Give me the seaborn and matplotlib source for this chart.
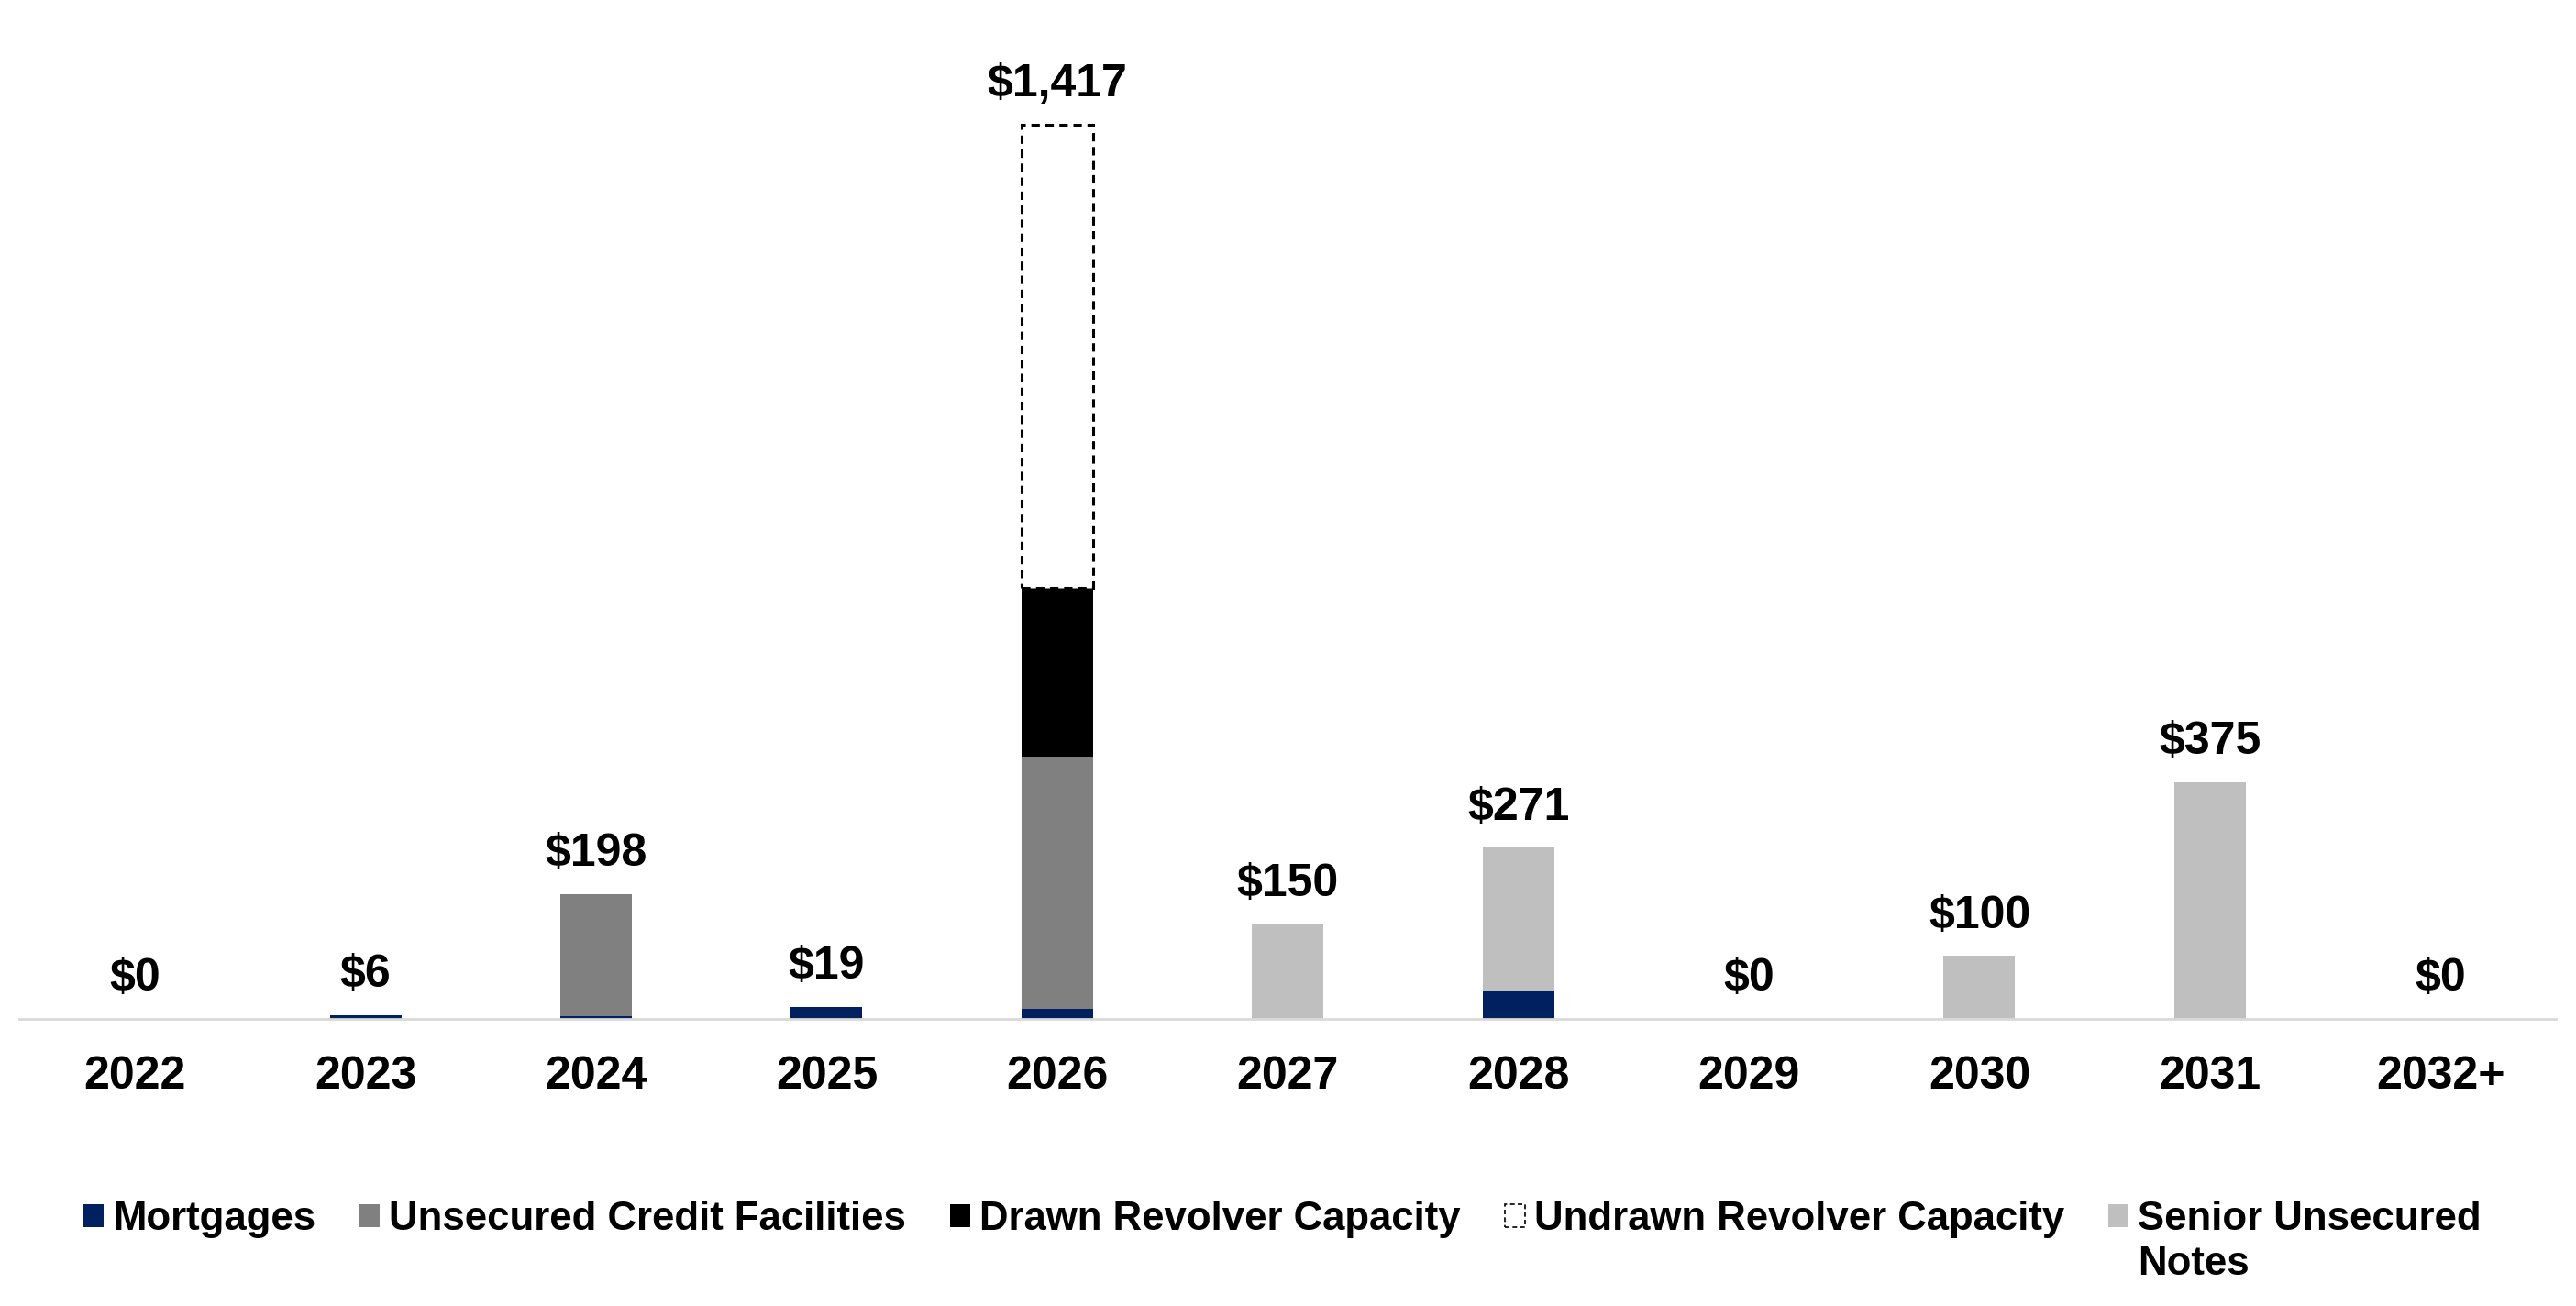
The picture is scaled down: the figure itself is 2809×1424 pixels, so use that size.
import matplotlib
matplotlib.use("Agg")
import matplotlib.pyplot as plt
import matplotlib.patches as mpatches
import seaborn as sns
import pandas as pd

# Debt maturity schedule ($ millions)
years = ["2022", "2023", "2024", "2025", "2026", "2027", "2028", "2029", "2030", "2031", "2032+"]
mortgages = [0, 6, 5, 19, 16, 0, 45, 0, 0, 0, 0]
unsecured_credit = [0, 0, 193, 0, 400, 0, 0, 0, 0, 0, 0]
drawn_revolver = [0, 0, 0, 0, 267, 0, 0, 0, 0, 0, 0]
undrawn_revolver = [0, 0, 0, 0, 734, 0, 0, 0, 0, 0, 0]
senior_notes = [0, 0, 0, 0, 0, 150, 226, 0, 100, 375, 0]

sns.set_style("white")
plt.rcParams["font.family"] = ["Liberation Sans", "DejaVu Sans"]
plt.rcParams["font.weight"] = "bold"
plt.rcParams["text.color"] = "black"
plt.rcParams["xtick.color"] = "black"

df = pd.DataFrame({
    "year": years,
    "Mortgages": mortgages,
    "Unsecured Credit Facilities": unsecured_credit,
    "Drawn Revolver Capacity": drawn_revolver,
    "Undrawn Revolver Capacity": undrawn_revolver,
    "Senior Unsecured Notes": senior_notes,
})

layers = [
    ("Mortgages", "#002060"),
    ("Unsecured Credit Facilities", "#808080"),
    ("Drawn Revolver Capacity", "#000000"),
    ("Undrawn Revolver Capacity", "#FFFFFF"),
    ("Senior Unsecured Notes", "#BFBFBF"),
]
dashed = (0, (3, 2))

fig = plt.figure(figsize=(28.09, 14.24), dpi=100)
ax = fig.add_axes([0.00765, 0.2198, 0.9845, 0.7735])

# stack the layers one on top of the other
bottom = pd.Series(0.0, index=df.index)
for col, color in layers:
    part = df[df[col] > 0]
    if col == "Undrawn Revolver Capacity":
        kw = dict(edgecolor="black", linewidth=2.2, linestyle=dashed)
    else:
        kw = dict(linewidth=0)
    sns.barplot(x=part["year"], y=part[col], order=years, color=color, saturation=1,
                width=0.31, errorbar=None, bottom=bottom[part.index].values, ax=ax, **kw)
    bottom += df[col]

# total labels above each bar
for i, total in enumerate(bottom):
    ax.annotate(f"${total:,.0f}", (i, total), xytext=(0, 22), textcoords="offset points",
                ha="center", va="baseline", fontsize=36, fontweight="bold", color="black")

ax.set_xlim(-0.5, len(years) - 0.5)
ax.set_ylim(0, 1600)
ax.set_xlabel("")
ax.set_ylabel("")
ax.set_yticks([])
ax.tick_params(axis="x", length=0, pad=29, labelsize=36, labelcolor="black")
for lbl in ax.get_xticklabels():
    lbl.set_fontweight("bold")
for side in ["top", "left", "right"]:
    ax.spines[side].set_visible(False)
ax.spines["bottom"].set_color("#D9D9D9")
ax.spines["bottom"].set_linewidth(2)

# legend
handles = []
for col, color in layers:
    if col == "Undrawn Revolver Capacity":
        handles.append(mpatches.Patch(facecolor=color, edgecolor="black", linewidth=1.2, linestyle=dashed))
    else:
        handles.append(mpatches.Patch(facecolor=color, linewidth=0))
labels = [c for c, _ in layers]
labels[-1] = "Senior Unsecured"
leg = fig.legend(handles, labels, loc="upper left", bbox_to_anchor=(0.0325, 0.081), ncol=5,
                 frameon=False, fontsize=31.5, handlelength=0.5, handleheight=0.5,
                 handletextpad=0.23, columnspacing=1.1, borderpad=0, borderaxespad=0)
for t in leg.get_texts():
    t.set_fontweight("bold")
    t.set_color("black")

fig.canvas.draw()
bb = leg.get_texts()[-1].get_window_extent().transformed(fig.transFigure.inverted())
fig.text(bb.x0, bb.y0 - 0.006, "Notes", ha="left", va="top", fontsize=31.5,
         fontweight="bold", color="black")

fig.savefig("out.png", dpi=100)
